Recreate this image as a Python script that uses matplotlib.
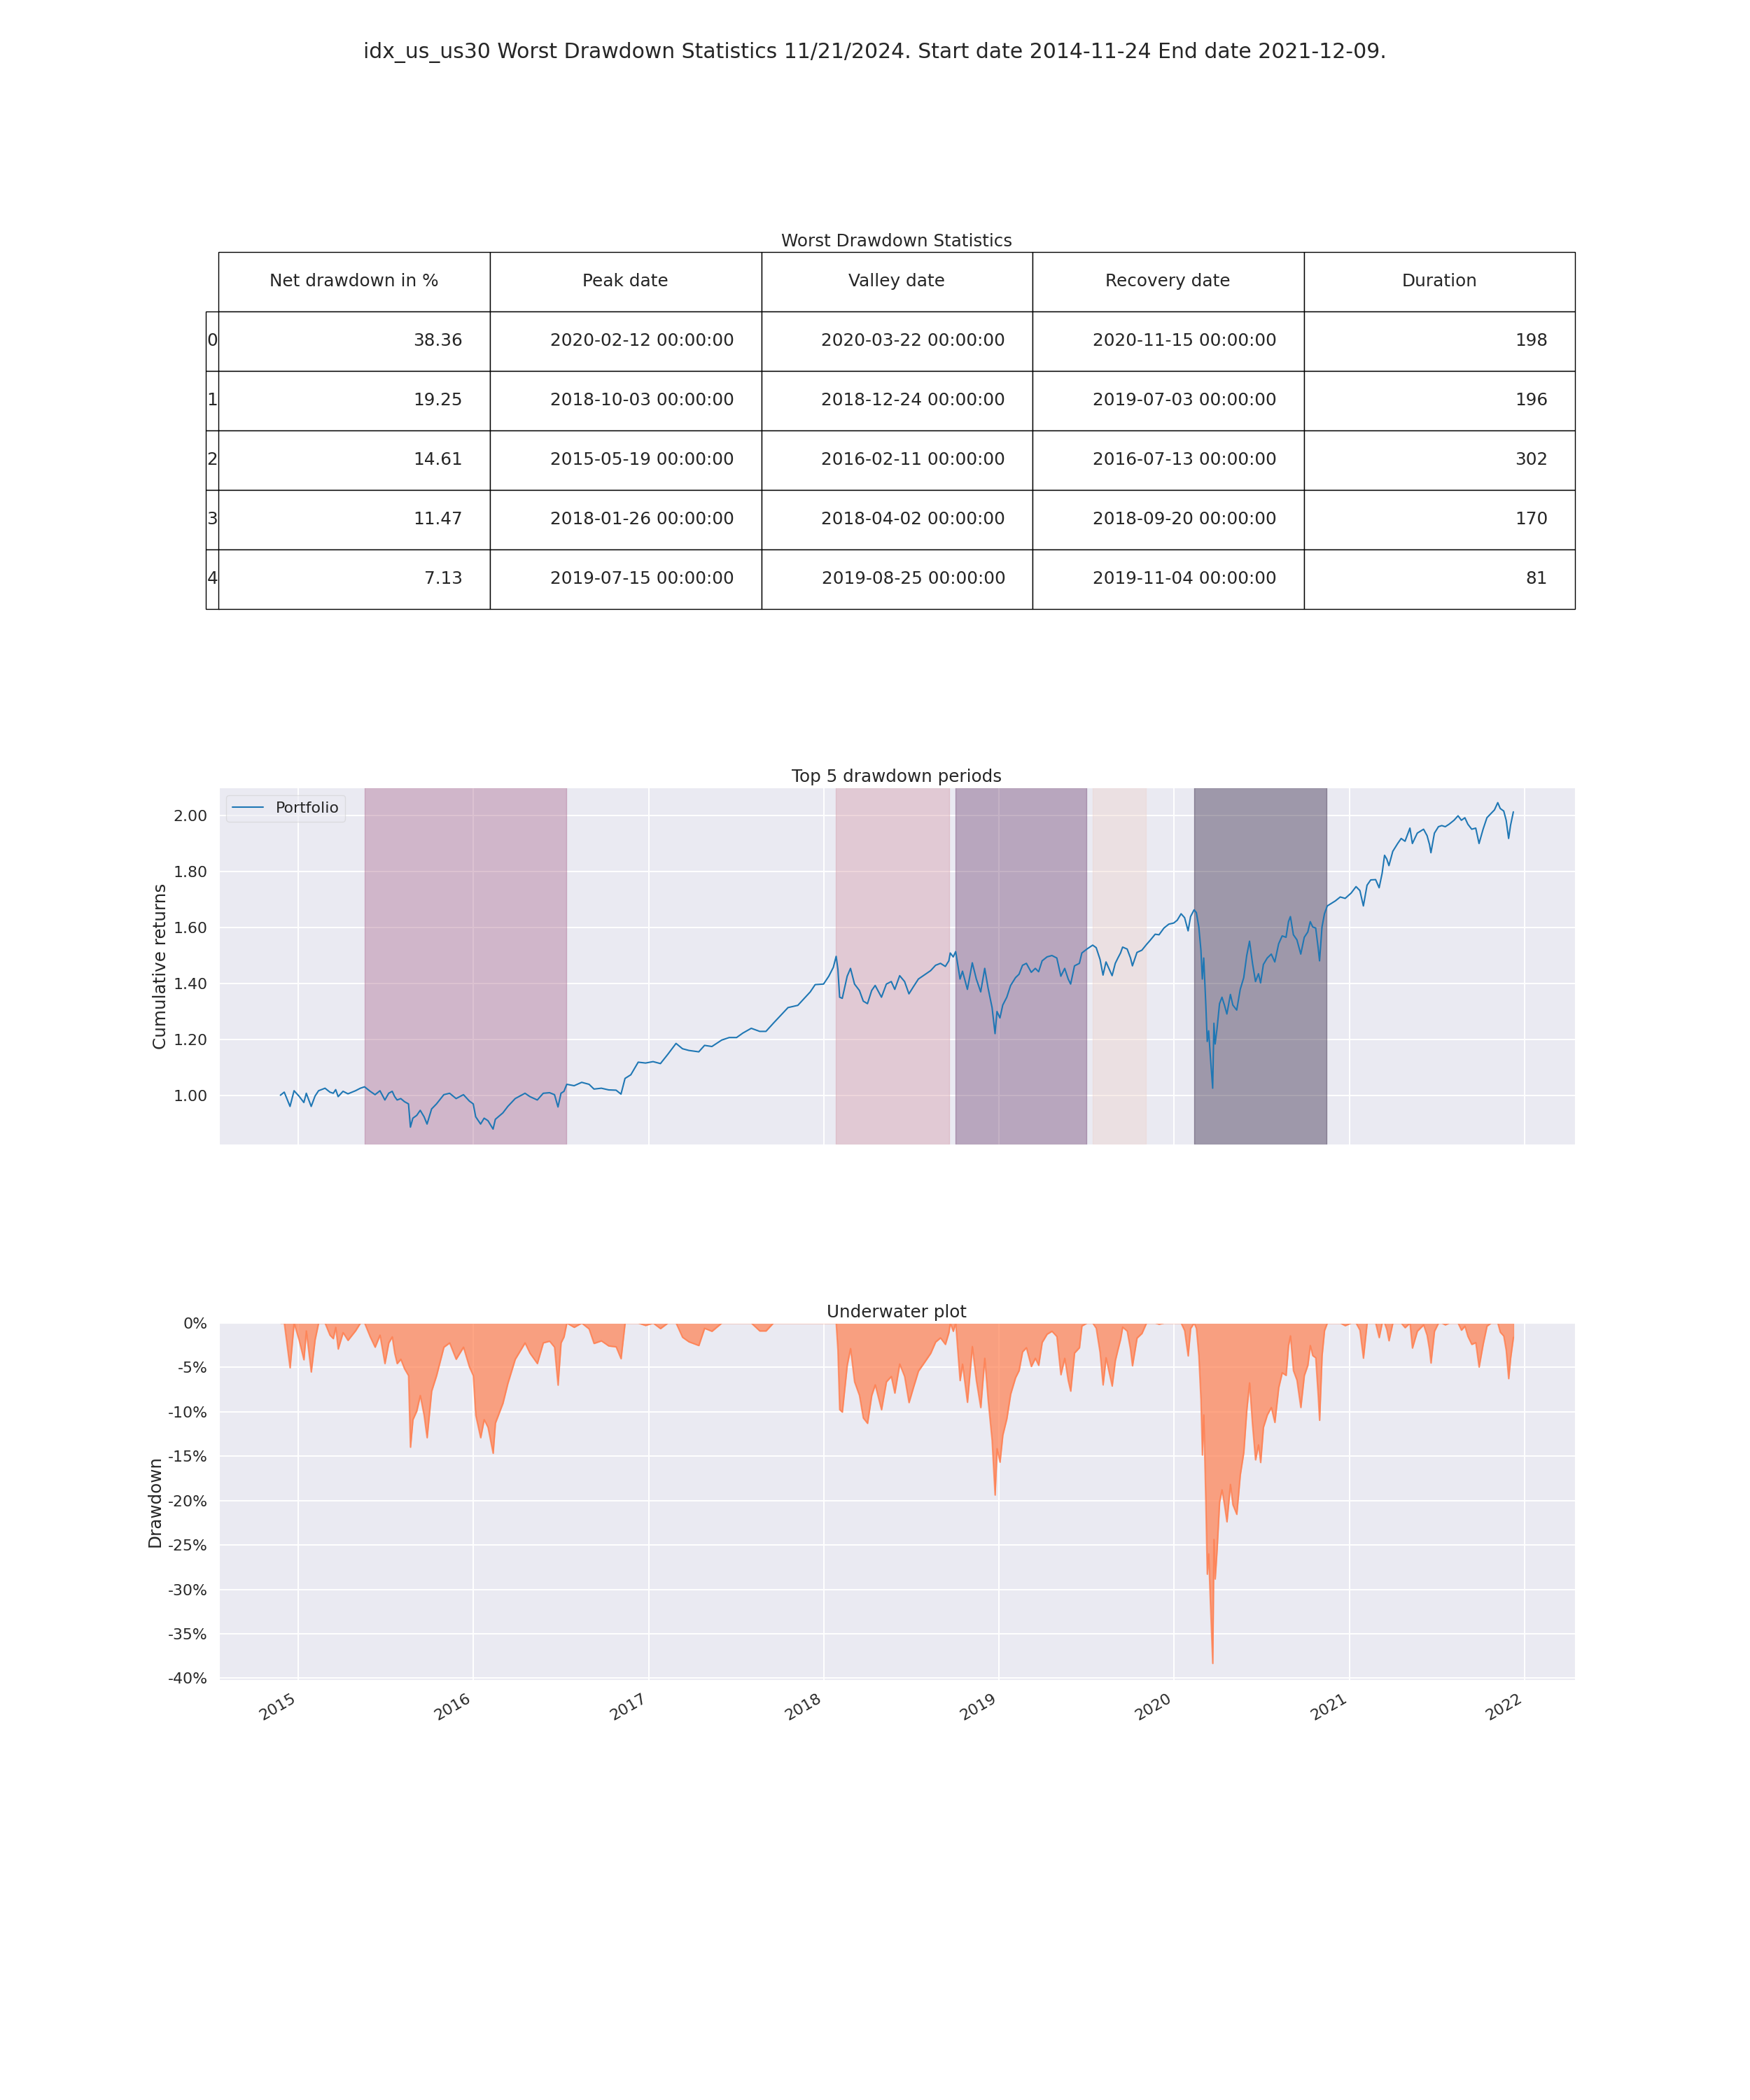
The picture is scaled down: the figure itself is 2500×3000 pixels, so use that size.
import numpy as np
import pandas as pd
import matplotlib
matplotlib.use("Agg")
import matplotlib.pyplot as plt
import matplotlib.dates as mdates
from matplotlib.gridspec import GridSpec
from matplotlib.ticker import FuncFormatter, MultipleLocator
import seaborn as sns

# ---------------- data ----------------
suptitle_text = ("idx_us_us30 Worst Drawdown Statistics 11/21/2024. "
                 "Start date 2014-11-24 End date 2021-12-09.")
table_title = "Worst Drawdown Statistics"
table_columns = ["Net drawdown in %", "Peak date", "Valley date",
                 "Recovery date", "Duration"]
table_index = ["0", "1", "2", "3", "4"]
net_drawdown = [38.36, 19.25, 14.61, 11.47, 7.13]
peak_dates = ["2020-02-12", "2018-10-03", "2015-05-19", "2018-01-26", "2019-07-15"]
valley_dates = ["2020-03-22", "2018-12-24", "2016-02-11", "2018-04-02", "2019-08-25"]
recovery_dates = ["2020-11-15", "2019-07-03", "2016-07-13", "2018-09-20", "2019-11-04"]
durations = [198, 196, 302, 170, 81]

# cumulative returns (decimal year, value)
cum_years = [
    2014.897, 2014.919, 2014.952, 2014.975, 2015.003, 2015.031, 2015.045, 2015.073,
    2015.095, 2015.115, 2015.152, 2015.180, 2015.199, 2015.213, 2015.227, 2015.255,
    2015.283, 2015.326, 2015.354, 2015.378, 2015.410, 2015.438, 2015.466, 2015.494,
    2015.516, 2015.536, 2015.550, 2015.564, 2015.585, 2015.606, 2015.629, 2015.640,
    2015.654, 2015.676, 2015.696, 2015.718, 2015.735, 2015.761, 2015.789, 2015.831,
    2015.864, 2015.901, 2015.943, 2015.977, 2015.999, 2016.013, 2016.041, 2016.061,
    2016.083, 2016.112, 2016.125, 2016.168, 2016.196, 2016.238, 2016.294, 2016.322,
    2016.364, 2016.398, 2016.434, 2016.462, 2016.482, 2016.499, 2016.516, 2016.532,
    2016.574, 2016.617, 2016.659, 2016.687, 2016.729, 2016.771, 2016.813, 2016.841,
    2016.864, 2016.897, 2016.939, 2016.981, 2017.024, 2017.066, 2017.108, 2017.155,
    2017.192, 2017.228, 2017.285, 2017.318, 2017.360, 2017.416, 2017.459, 2017.501,
    2017.537, 2017.585, 2017.633, 2017.669, 2017.711, 2017.753, 2017.795, 2017.851,
    2017.894, 2017.922, 2017.950, 2017.998, 2018.028, 2018.054, 2018.070, 2018.080,
    2018.090, 2018.105, 2018.133, 2018.152, 2018.175, 2018.203, 2018.225, 2018.249,
    2018.273, 2018.293, 2018.329, 2018.357, 2018.385, 2018.405, 2018.433, 2018.461,
    2018.486, 2018.512, 2018.540, 2018.573, 2018.610, 2018.638, 2018.666, 2018.694,
    2018.714, 2018.722, 2018.739, 2018.753, 2018.778, 2018.792, 2018.820, 2018.848,
    2018.871, 2018.896, 2018.919, 2018.938, 2018.961, 2018.978, 2018.989, 2019.006,
    2019.022, 2019.045, 2019.067, 2019.095, 2019.115, 2019.135, 2019.157, 2019.185,
    2019.208, 2019.227, 2019.247, 2019.275, 2019.303, 2019.331, 2019.354, 2019.376,
    2019.396, 2019.410, 2019.432, 2019.460, 2019.474, 2019.503, 2019.536, 2019.556,
    2019.578, 2019.595, 2019.612, 2019.647, 2019.665, 2019.680, 2019.695, 2019.707,
    2019.733, 2019.752, 2019.763, 2019.789, 2019.817, 2019.843, 2019.864, 2019.893,
    2019.915, 2019.943, 2019.971, 2019.999, 2020.019, 2020.041, 2020.061, 2020.081,
    2020.095, 2020.115, 2020.128, 2020.142, 2020.154, 2020.162, 2020.170, 2020.182,
    2020.190, 2020.198, 2020.207, 2020.221, 2020.228, 2020.235, 2020.246, 2020.260,
    2020.274, 2020.288, 2020.302, 2020.322, 2020.336, 2020.358, 2020.378, 2020.398,
    2020.415, 2020.431, 2020.448, 2020.465, 2020.482, 2020.494, 2020.510, 2020.532,
    2020.555, 2020.575, 2020.597, 2020.617, 2020.639, 2020.653, 2020.664, 2020.681,
    2020.701, 2020.723, 2020.743, 2020.763, 2020.777, 2020.791, 2020.808, 2020.822,
    2020.830, 2020.844, 2020.858, 2020.874, 2020.897, 2020.920, 2020.948, 2020.976,
    2021.010, 2021.038, 2021.060, 2021.080, 2021.101, 2021.122, 2021.150, 2021.170,
    2021.187, 2021.201, 2021.214, 2021.226, 2021.248, 2021.276, 2021.296, 2021.318,
    2021.346, 2021.360, 2021.388, 2021.424, 2021.444, 2021.458, 2021.466, 2021.486,
    2021.509, 2021.528, 2021.548, 2021.570, 2021.598, 2021.621, 2021.640, 2021.660,
    2021.677, 2021.699, 2021.722, 2021.741, 2021.764, 2021.786, 2021.809, 2021.829,
    2021.848, 2021.862, 2021.882, 2021.896, 2021.910, 2021.921, 2021.937,
]
cum_values = [
    1.000, 1.011, 0.960, 1.016, 0.997, 0.974, 1.007, 0.960,
    0.997, 1.016, 1.025, 1.011, 1.007, 1.020, 0.995, 1.014,
    1.005, 1.016, 1.025, 1.030, 1.014, 1.002, 1.016, 0.983,
    1.007, 1.014, 0.995, 0.983, 0.988, 0.977, 0.969, 0.886,
    0.918, 0.928, 0.946, 0.923, 0.897, 0.951, 0.969, 1.002,
    1.007, 0.988, 1.002, 0.979, 0.969, 0.923, 0.897, 0.918,
    0.909, 0.879, 0.914, 0.937, 0.960, 0.988, 1.007, 0.995,
    0.983, 1.007, 1.009, 1.002, 0.958, 1.007, 1.014, 1.039,
    1.034, 1.046, 1.039, 1.022, 1.025, 1.019, 1.018, 1.004,
    1.060, 1.073, 1.118, 1.115, 1.120, 1.113, 1.146, 1.185,
    1.166, 1.160, 1.155, 1.178, 1.174, 1.197, 1.206, 1.206,
    1.222, 1.239, 1.228, 1.228, 1.257, 1.285, 1.313, 1.321,
    1.350, 1.369, 1.395, 1.397, 1.425, 1.457, 1.496, 1.450,
    1.350, 1.346, 1.425, 1.453, 1.397, 1.374, 1.336, 1.327,
    1.374, 1.392, 1.350, 1.397, 1.406, 1.378, 1.427, 1.406,
    1.362, 1.388, 1.415, 1.429, 1.445, 1.464, 1.471, 1.460,
    1.480, 1.508, 1.494, 1.513, 1.415, 1.443, 1.378, 1.473,
    1.415, 1.369, 1.453, 1.383, 1.313, 1.220, 1.299, 1.276,
    1.322, 1.350, 1.392, 1.420, 1.432, 1.464, 1.471, 1.439,
    1.453, 1.441, 1.480, 1.494, 1.499, 1.490, 1.425, 1.453,
    1.415, 1.397, 1.462, 1.471, 1.508, 1.522, 1.536, 1.527,
    1.485, 1.429, 1.476, 1.427, 1.471, 1.490, 1.508, 1.529,
    1.522, 1.490, 1.462, 1.510, 1.518, 1.538, 1.553, 1.575,
    1.573, 1.597, 1.611, 1.615, 1.625, 1.648, 1.634, 1.587,
    1.638, 1.662, 1.652, 1.601, 1.518, 1.415, 1.490, 1.322,
    1.192, 1.230, 1.146, 1.025, 1.257, 1.183, 1.239, 1.327,
    1.350, 1.322, 1.290, 1.360, 1.322, 1.304, 1.378, 1.420,
    1.499, 1.550, 1.471, 1.406, 1.434, 1.401, 1.467, 1.490,
    1.504, 1.476, 1.541, 1.569, 1.564, 1.620, 1.638, 1.573,
    1.555, 1.504, 1.564, 1.583, 1.620, 1.601, 1.597, 1.527,
    1.480, 1.601, 1.648, 1.676, 1.685, 1.694, 1.708, 1.703,
    1.722, 1.745, 1.731, 1.676, 1.750, 1.769, 1.770, 1.741,
    1.792, 1.857, 1.843, 1.820, 1.871, 1.899, 1.917, 1.907,
    1.954, 1.899, 1.936, 1.950, 1.927, 1.895, 1.866, 1.936,
    1.959, 1.963, 1.959, 1.968, 1.982, 1.998, 1.982, 1.991,
    1.968, 1.950, 1.954, 1.899, 1.950, 1.991, 2.006, 2.019,
    2.045, 2.024, 2.015, 1.982, 1.917, 1.964, 2.012,
]


def year_to_date(y):
    yr = int(np.floor(y))
    start = pd.Timestamp(year=yr, month=1, day=1)
    end = pd.Timestamp(year=yr + 1, month=1, day=1)
    return start + (end - start) * (y - yr)


cum_dates = pd.DatetimeIndex([year_to_date(y) for y in cum_years])
cum = pd.Series(cum_values, index=cum_dates)
running_max = np.maximum.accumulate(cum)
underwater = -100 * ((running_max - cum) / running_max)

# ---------------- style ----------------
sns.set_style("darkgrid")
plt.rcParams["font.family"] = ["DejaVu Sans"]
plt.rcParams["grid.linewidth"] = 1.4
plt.rcParams["patch.linewidth"] = 1.0

TITLE_FS = 17.7
TICK_FS = 15.8

fig = plt.figure(figsize=(25, 30), dpi=100)
gs = GridSpec(3, 1, figure=fig, left=0.125, right=0.9, top=0.88,
              bottom=0.2, hspace=0.5)

# ---------------- table ----------------
ax0 = fig.add_subplot(gs[0])
ax0.axis("off")
ax0.set_title(table_title, fontsize=TITLE_FS)
cell_text = []
for i in range(len(table_index)):
    cell_text.append([f"{net_drawdown[i]:.2f}",
                      f"{peak_dates[i]} 00:00:00",
                      f"{valley_dates[i]} 00:00:00",
                      f"{recovery_dates[i]} 00:00:00",
                      f"{durations[i]}"])
tbl = ax0.table(cellText=cell_text, colLabels=table_columns,
                rowLabels=table_index, bbox=[0, 0, 1, 1])
tbl.auto_set_font_size(False)
tbl.set_fontsize(17.8)
for key, cell in tbl.get_celld().items():
    cell.set_linewidth(1.0)
    cell.set_edgecolor("black")

# ---------------- cumulative returns ----------------
ax1 = fig.add_subplot(gs[1])
ax2 = fig.add_subplot(gs[2], sharex=ax1)

ax1.plot(cum.index, cum.values, color="#1f77b4", lw=1.5)
ylim = (0.824, 2.099)
colors = sns.cubehelix_palette(len(peak_dates))[::-1]
for i in range(len(peak_dates)):
    p = pd.Timestamp(peak_dates[i])
    r = pd.Timestamp(recovery_dates[i])
    ax1.fill_between([p, r], ylim[0], ylim[1], alpha=0.4, color=colors[i])
ax1.set_ylim(ylim)
ax1.yaxis.set_major_locator(MultipleLocator(0.2))
ax1.yaxis.set_major_formatter(FuncFormatter(lambda y, pos: f"{y:.2f}"))
ax1.set_title("Top 5 drawdown periods", fontsize=TITLE_FS)
ax1.set_ylabel("Cumulative returns", fontsize=TITLE_FS)
ax1.legend(["Portfolio"], loc="upper left", frameon=True, framealpha=0.5,
           fontsize=TICK_FS)
ax1.tick_params(length=0, pad=11.5, labelsize=TICK_FS)
plt.setp(ax1.get_xticklabels(), visible=False)

# ---------------- underwater ----------------
ax2.fill_between(underwater.index, underwater.values, 0, color="coral",
                 alpha=0.7, lw=1.0)
ax2.plot(underwater.index, underwater.values, color="coral", alpha=0.7, lw=1.5)
ax2.set_ylim(-40.2, 0)
ax2.yaxis.set_major_locator(MultipleLocator(5))
ax2.yaxis.set_major_formatter(FuncFormatter(lambda y, pos: "%.0f%%" % y))
ax2.set_title("Underwater plot", fontsize=TITLE_FS)
ax2.set_ylabel("Drawdown", fontsize=TITLE_FS)
ax2.set_xlabel("")
ax2.xaxis.set_major_locator(mdates.YearLocator())
ax2.xaxis.set_major_formatter(mdates.DateFormatter("%Y"))
ax2.tick_params(length=0, pad=11.5, labelsize=TICK_FS)
for lbl in ax2.get_xticklabels():
    lbl.set_rotation(30)
    lbl.set_ha("right")

fig.suptitle(suptitle_text, fontsize=21.5)
fig.savefig("out.png", dpi=100)
